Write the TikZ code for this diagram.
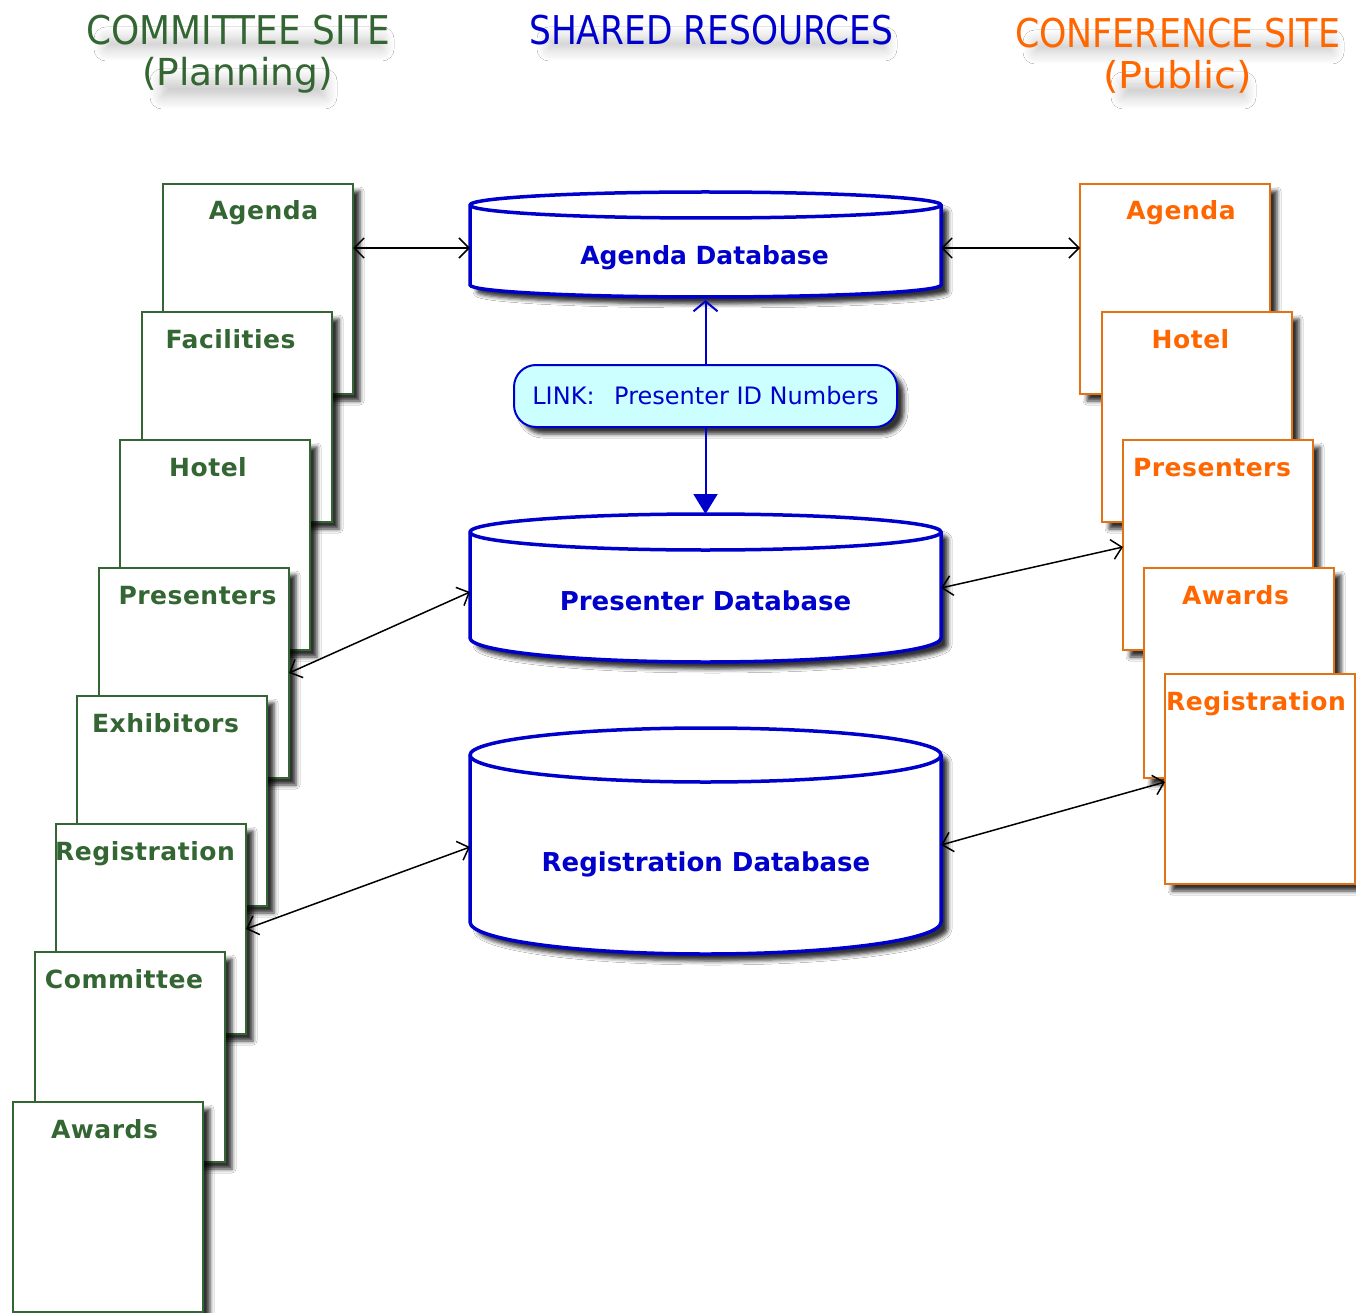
\documentclass[tikz,border=0pt]{standalone}
\usepackage{fontspec}
\usepackage{graphicx}
\setmainfont{DejaVu Sans}
\newfontfamily\lblfont{DejaVu Sans}[LetterSpace=2]
\usetikzlibrary{arrows.meta,shadows.blur}
\definecolor{cgreen}{RGB}{51,102,51}
\definecolor{corange}{RGB}{255,102,0}
\definecolor{coborder}{RGB}{225,115,20}
\definecolor{cblue}{RGB}{0,0,204}
\definecolor{clink}{RGB}{204,255,255}
\tikzset{
 shd/.style={blur shadow={shadow xshift=7pt, shadow yshift=-7pt, shadow blur radius=4pt, shadow opacity=80}},
 sheet/.style={line width=2pt, fill=white, minimum width=190pt, minimum height=210pt, inner sep=0pt, outer sep=0pt, shd},
 gsheet/.style={sheet, draw=cgreen},
 osheet/.style={sheet, draw=coborder},
 plabel/.style={anchor=base, inner sep=0pt, font=\lblfont\bfseries\fontsize{25}{25}\selectfont},
 glabel/.style={plabel, text=cgreen},
 olabel/.style={plabel, text=corange},
 dbbox/.style={inner sep=0pt, outer sep=0pt, minimum width=471pt},
 dbtext/.style={anchor=base, inner sep=0pt, text=cblue, font=\bfseries\fontsize{25}{25}\selectfont},
 dbline/.style={draw=cblue, line width=3.5pt, fill=white},
 linkbox/.style={draw=cblue, line width=2pt, fill=clink, rounded corners=22pt, minimum width=383pt, minimum height=62pt, inner sep=0pt, text=cblue, font=\fontsize{24}{24}\selectfont, shd},
 biarrow/.style={draw=black, line width=1.5pt, {Straight Barb[length=10pt,width=20pt]}-{Straight Barb[length=10pt,width=20pt]}},
 hdr/.style={anchor=north west, inner sep=0pt},
 hdrshd/.style={blur shadow={shadow xshift=6pt, shadow yshift=-14pt, shadow blur radius=12pt, shadow blur steps=12, shadow opacity=22}},
}
\newcommand{\hdrtext}[7]{%
 \path[hdrshd] (#2+14,#3+10) rectangle (#2+#4-14,#3+#5-10);
 \node[hdr, text=#6] (#1) at (#2,#3) {\resizebox*{#4pt}{#5pt}{#7}};
}
\begin{document}
\begin{tikzpicture}[x=1pt, y=-1pt]
\fill[white] (0,0) rectangle (1356,1313);
\useasboundingbox (0,0) rectangle (1356,1313);

% headers
\hdrtext{hA}{86}{15}{304}{30}{cgreen}{COMMITTEE SITE}
\hdrtext{hB}{142}{57}{191}{36}{cgreen}{(Planning)}
\hdrtext{hC}{529}{15}{364}{30}{cblue}{SHARED RESOURCES}
\hdrtext{hD}{1015}{18}{325}{30}{corange}{CONFERENCE SITE}
\hdrtext{hE}{1103}{60}{149}{33}{corange}{(Public)}

% green pages (committee)
\node[gsheet] (gAgenda) at (258,289) {};
\node[glabel] (gAgendaT) at (263.5,220) {Agenda};
\node[gsheet] (gFac) at (237,417) {};
\node[glabel] (gFacT) at (230.5,348) {Facilities};
\node[gsheet] (gHotel) at (215,545) {};
\node[glabel] (gHotelT) at (208,476) {Hotel};
\node[gsheet] (gPres) at (194,673) {};
\node[glabel] (gPresT) at (197.5,604) {Presenters};
\node[gsheet] (gExh) at (172,801) {};
\node[glabel] (gExhT) at (165.5,732) {Exhibitors};
\node[gsheet] (gReg) at (151,929) {};
\node[glabel] (gRegT) at (145,860) {Registration};
\node[gsheet] (gCom) at (130,1057) {};
\node[glabel] (gComT) at (124,988) {Committee};
\node[gsheet] (gAw) at (108,1207) {};
\node[glabel] (gAwT) at (104.5,1138) {Awards};

% orange pages (conference)
\node[osheet] (oAgenda) at (1175,289) {};
\node[olabel] (oAgendaT) at (1181,220) {Agenda};
\node[osheet] (oHotel) at (1197,417) {};
\node[olabel] (oHotelT) at (1190.5,348) {Hotel};
\node[osheet] (oPres) at (1218,545) {};
\node[olabel] (oPresT) at (1212,476) {Presenters};
\node[osheet] (oAw) at (1239,673) {};
\node[olabel] (oAwT) at (1235.5,604) {Awards};
\node[osheet] (oReg) at (1260,779) {};
\node[olabel] (oRegT) at (1256,710) {Registration};

% databases
\path[dbline, shd] (470,205) -- (470,285) arc[start angle=180, end angle=360, x radius=235.5pt, y radius=12pt] -- (941,205) arc[start angle=0, end angle=180, x radius=235.5pt, y radius=13pt] -- cycle;
\draw[cblue, line width=3.5pt] (470,205) arc[start angle=180, end angle=360, x radius=235.5pt, y radius=13pt];
\node[dbbox, minimum height=105pt] (adb) at (705.5,244.5) {};
\node[dbtext] (adbT) at (704.5,265) {Agenda Database};

\path[dbline, shd] (470,532) -- (470,638) arc[start angle=180, end angle=360, x radius=235.5pt, y radius=24pt] -- (941,532) arc[start angle=0, end angle=180, x radius=235.5pt, y radius=18pt] -- cycle;
\draw[cblue, line width=3.5pt] (470,532) arc[start angle=180, end angle=360, x radius=235.5pt, y radius=18pt];
\node[dbbox, minimum height=148pt] (pdb) at (705.5,588) {};
\node[dbtext, font=\bfseries\fontsize{26}{26}\selectfont] (pdbT) at (705.5,610) {Presenter Database};

\path[dbline, shd] (470,755) -- (470,922) arc[start angle=180, end angle=360, x radius=235.5pt, y radius=32pt] -- (941,755) arc[start angle=0, end angle=180, x radius=235.5pt, y radius=27pt] -- cycle;
\draw[cblue, line width=3.5pt] (470,755) arc[start angle=180, end angle=360, x radius=235.5pt, y radius=27pt];
\node[dbbox, minimum height=226pt] (rdb) at (705.5,841) {};
\node[dbtext, font=\bfseries\fontsize{26}{26}\selectfont] (rdbT) at (706,871) {Registration Database};

% link
\node[linkbox] (lnk) at (705.5,396) {LINK:\hspace{0.5em} Presenter ID Numbers};
\draw[cblue, line width=2pt, -{Straight Barb[length=10pt,width=24pt]}] (lnk.north) -- ([yshift=-3pt]adb.south);
\draw[cblue, line width=2pt, -{Triangle[length=20pt,width=24pt]}] (lnk.south) -- (pdb.north);

% black connectors
\draw[biarrow] ([yshift=41pt]gAgenda.east) -- ([yshift=-3.5pt]adb.west);
\draw[biarrow] ([yshift=-3.5pt]adb.east) -- ([yshift=41pt]oAgenda.west);
\draw[biarrow] (gPres.east) -- ([yshift=-4pt]pdb.west);
\draw[biarrow] (pdb.east) -- ([yshift=-2pt]oPres.west);
\draw[biarrow] (gReg.east) -- ([yshift=-6pt]rdb.west);
\draw[biarrow] ([yshift=-4pt]rdb.east) -- ([yshift=-3pt]oReg.west);
\end{tikzpicture}
\end{document}
